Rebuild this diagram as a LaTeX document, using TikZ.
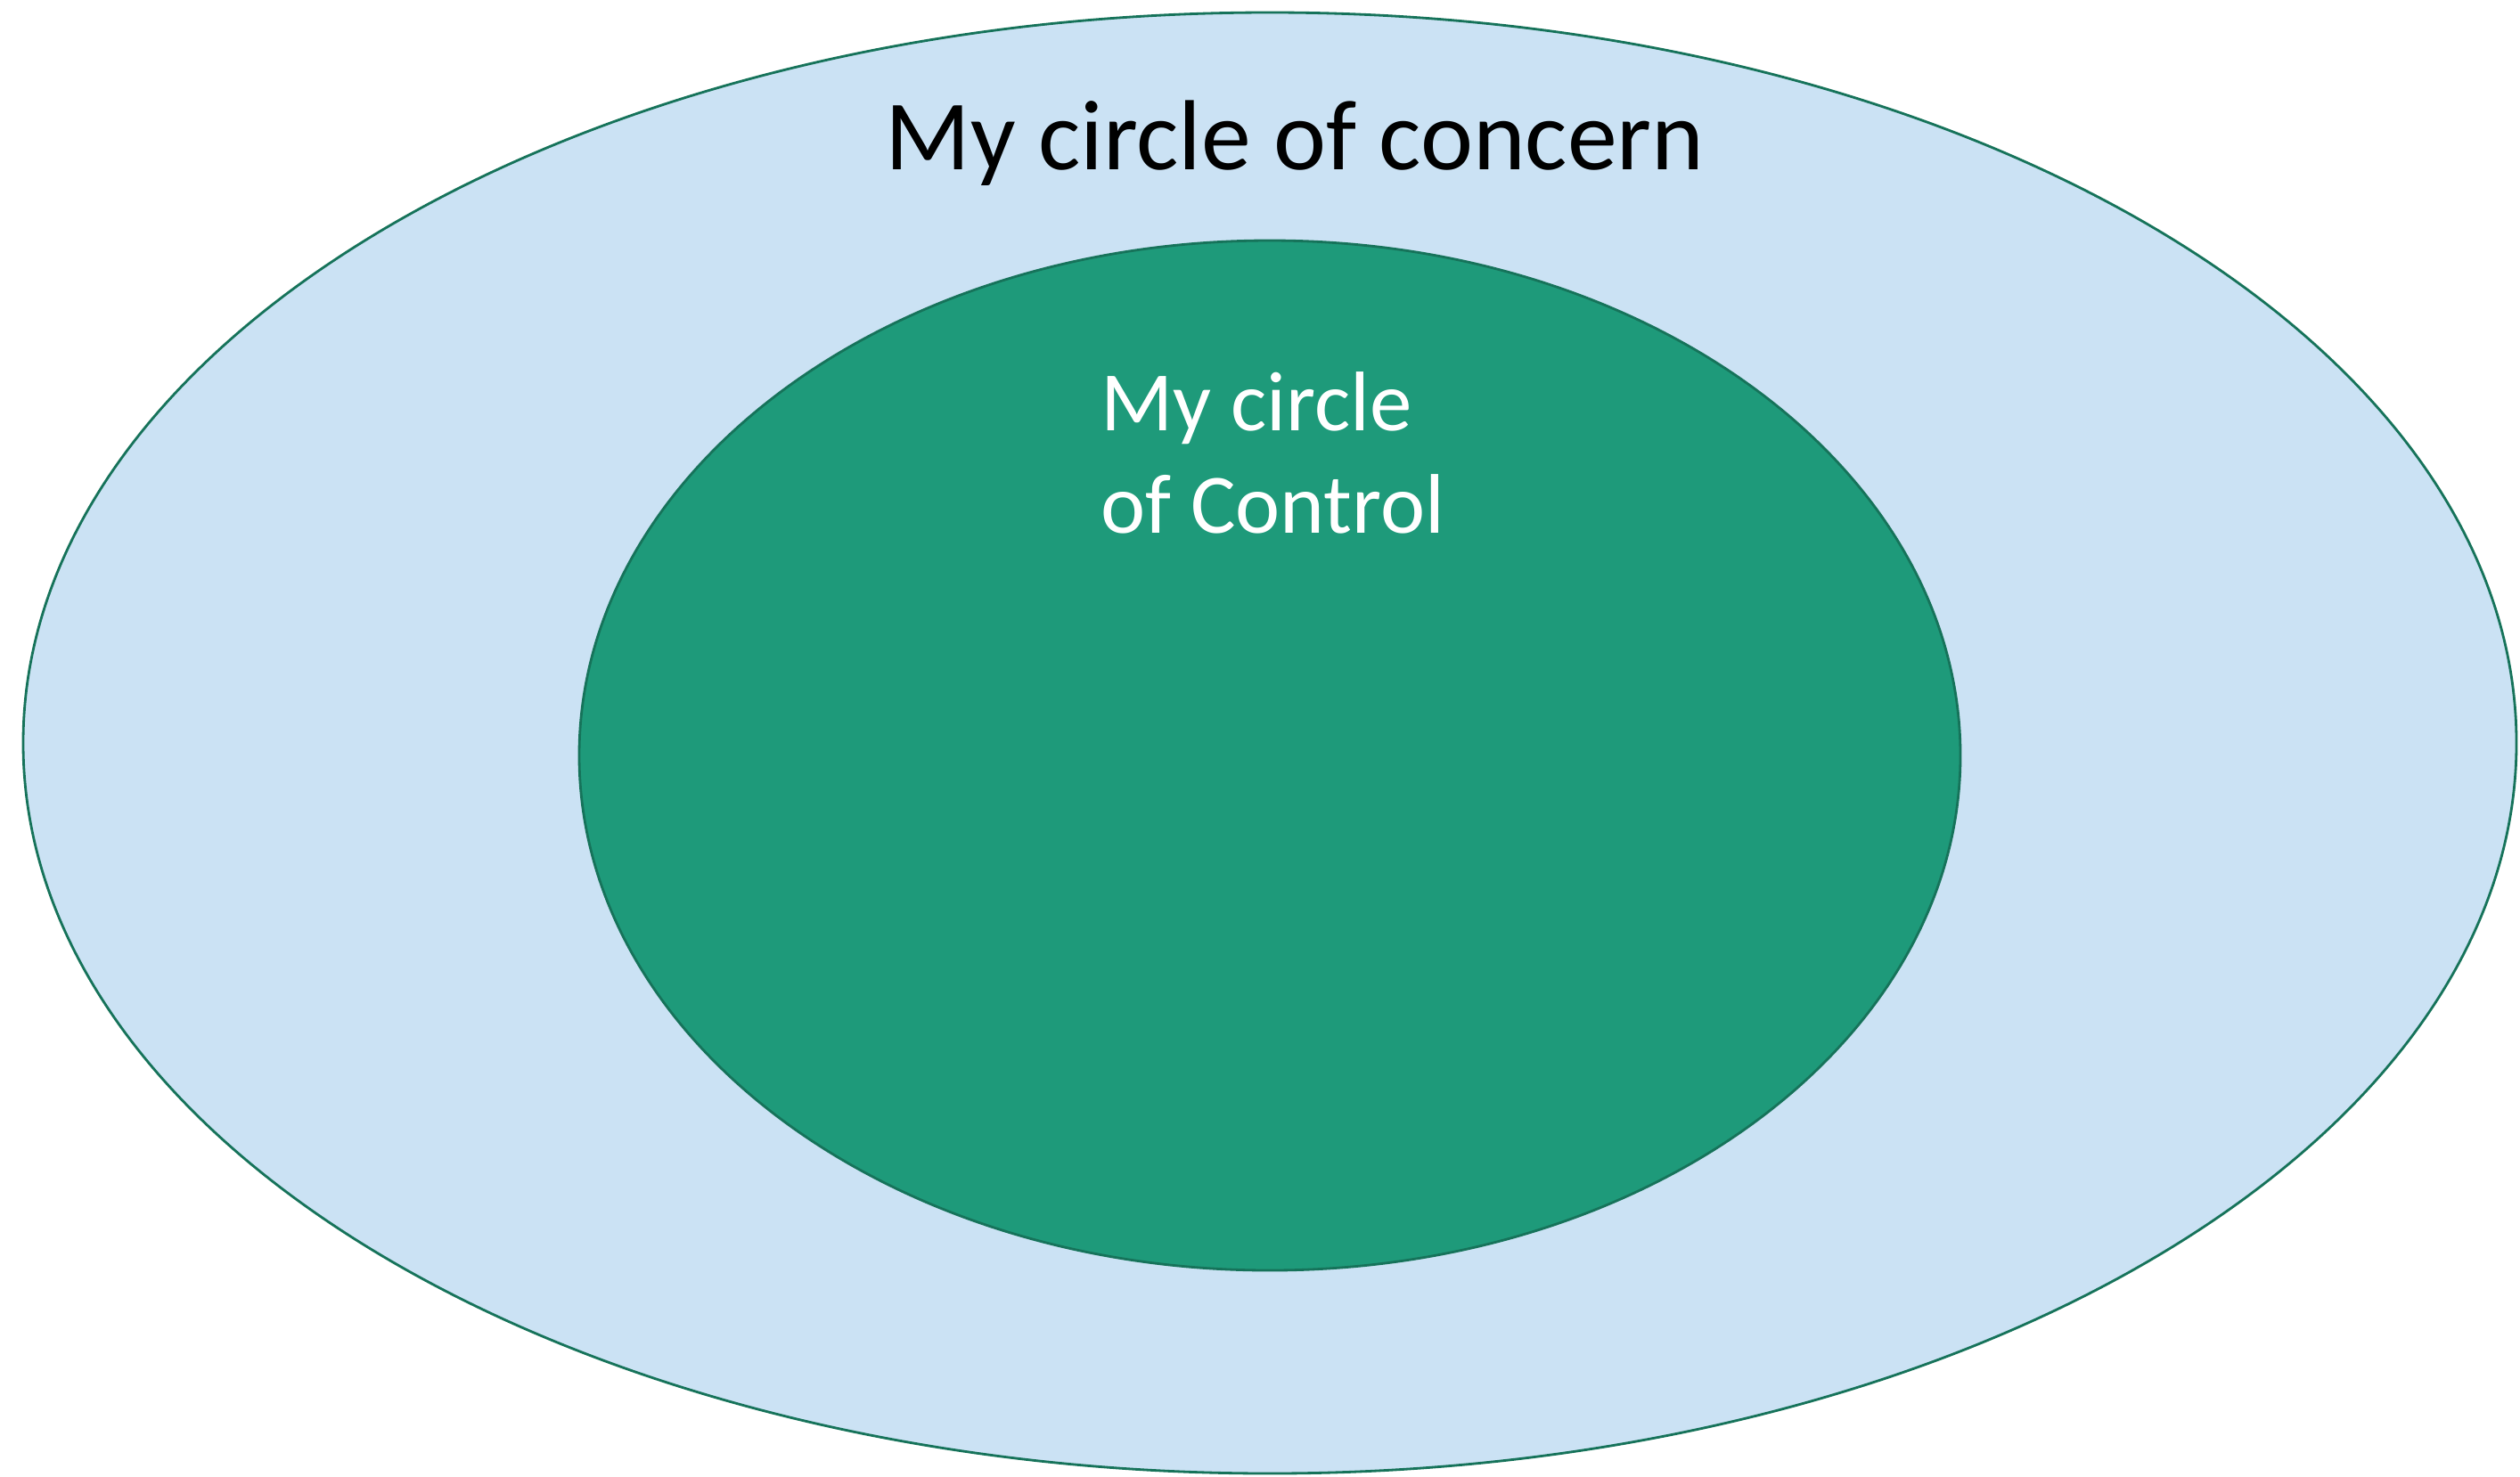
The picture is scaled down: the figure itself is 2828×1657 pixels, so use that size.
\documentclass[tikz,border=0pt]{standalone}
\usepackage{fontspec}
\setmainfont{Carlito}
\definecolor{outerfill}{RGB}{203,226,244}
\definecolor{innerfill}{RGB}{30,154,122}
\definecolor{ringline}{RGB}{22,115,90}
\begin{document}
\begin{tikzpicture}[x=0.01cm,y=-0.01cm,
  ring/.style={draw=ringline,line width=0.8pt},
  outerlabel/.style={font=\fontsize{31.8}{38.5}\selectfont,text=black,inner sep=0pt},
  innerlabel/.style={font=\fontsize{27}{32.7}\selectfont,text=white,inner sep=0pt,align=left}]
\useasboundingbox (0,0) rectangle (2828,1657);
\path[ring,fill=outerfill] (1425,834) ellipse [x radius=1399, y radius=820];
\path[ring,fill=innerfill] (1425,848) ellipse [x radius=775, y radius=578];
\node[outerlabel,anchor=base] (concern) at (1453,190) {My circle of concern};
\node[innerlabel,anchor=base west] (control) at (1235,598) {My circle\\of Control};
\end{tikzpicture}
\end{document}
